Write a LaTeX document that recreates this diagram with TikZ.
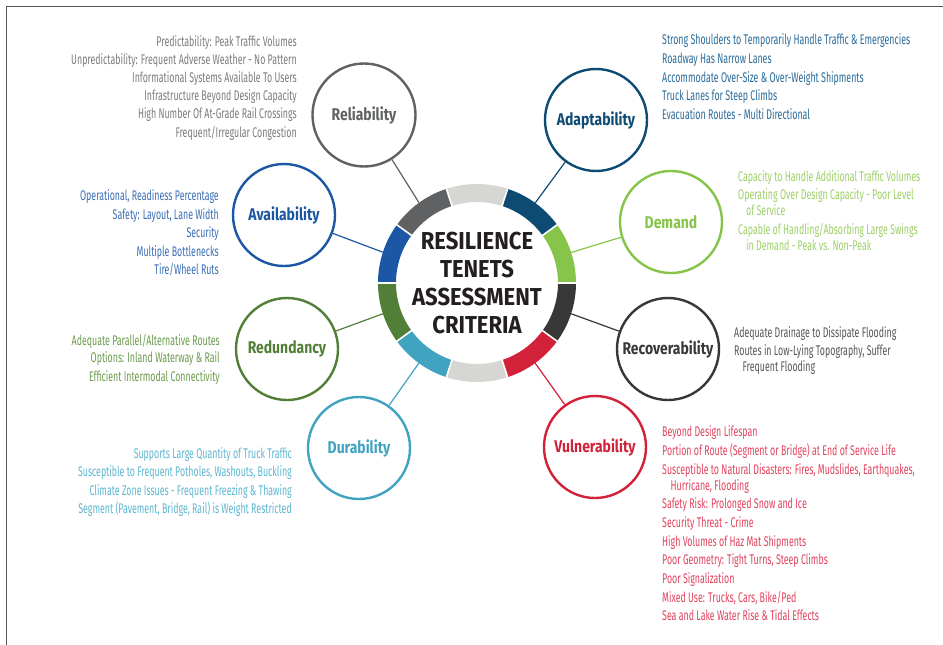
\documentclass[tikz,border=0pt]{standalone}
\usepackage{fontspec}
\setmainfont{Fira Sans}
\newfontfamily\listfont{Fira Sans}[FakeStretch=0.63]
\newfontfamily\tenetfont{Fira Sans}[FakeStretch=0.82]
\newfontfamily\titlefont{Fira Sans}[FakeStretch=0.9]
\usetikzlibrary{calc}

% tenet colours: C = circle / ring segment, T = criteria text
\definecolor{relC}{HTML}{5F6163}
\definecolor{relT}{HTML}{7A7B7D}
\definecolor{adaC}{HTML}{0E4B72}
\definecolor{adaT}{HTML}{2A6A98}
\definecolor{demC}{HTML}{86C44A}
\definecolor{demT}{HTML}{9CCF65}
\definecolor{recC}{HTML}{383838}
\definecolor{recT}{HTML}{555555}
\definecolor{vulC}{HTML}{D2223A}
\definecolor{vulT}{HTML}{E0425C}
\definecolor{durC}{HTML}{40A3C0}
\definecolor{durT}{HTML}{5DB6D0}
\definecolor{redC}{HTML}{527F38}
\definecolor{redT}{HTML}{6C9A4D}
\definecolor{avaC}{HTML}{1C57A5}
\definecolor{avaT}{HTML}{3A6DB4}
\definecolor{ringgray}{HTML}{D6D7D3}
\definecolor{framegray}{HTML}{555555}
\definecolor{titleink}{HTML}{231F20}

\tikzset{
  listL/.style={anchor=base west, inner sep=0pt, font=\listfont\fontsize{14}{16}\selectfont},
  listR/.style={anchor=base east, inner sep=0pt, font=\listfont\fontsize{14}{16}\selectfont},
  tenet/.style={circle, draw, fill=white, line width=2.4pt, minimum size=102pt, inner sep=0pt,
                font=\tenetfont\bfseries\fontsize{17}{20}\selectfont},
  link/.style={line width=1.2pt},
  seg/.style={line width=18pt},
}

\begin{document}
\begin{tikzpicture}[x=1pt,y=1pt]
\useasboundingbox (0,0) rectangle (943,-645);

% frame edges
\draw[framegray, line width=1.6pt] (6.5,-645) -- (6.5,-6.5) -- (943,-6.5);

% hub
\coordinate (hub) at (477,-283);

% tenet circles
\node[tenet, draw=relC, text=relC, minimum size=103pt] (rel) at (364,-115) {Reliability};
\node[tenet, draw=adaC, text=adaC] (ada) at (596,-120) {Adaptability};
\node[tenet, draw=demC, text=demC] (dem) at (671,-222) {Demand};
\node[tenet, draw=recC, text=recC] (rec) at (668,-349) {Recoverability};
\node[tenet, draw=vulC, text=vulC] (vul) at (595,-447) {Vulnerability};
\node[tenet, draw=durC, text=durC] (dur) at (359,-448) {Durability};
\node[tenet, draw=redC, text=redC] (red) at (287,-349) {Redundancy};
\node[tenet, draw=avaC, text=avaC] (ava) at (284,-215) {Availability};

% spokes from the ring to each tenet
\path (hub) ++(126:95pt) coordinate (relA);
\path (hub) ++(54:95pt)  coordinate (adaA);
\path (hub) ++(18:95pt)  coordinate (demA);
\path (hub) ++(-18:95pt) coordinate (recA);
\path (hub) ++(-54:95pt) coordinate (vulA);
\path (hub) ++(-126:95pt) coordinate (durA);
\path (hub) ++(198:95pt) coordinate (redA);
\path (hub) ++(162:95pt) coordinate (avaA);
\draw[link, relC] (relA) -- (rel);
\draw[link, adaC] (adaA) -- (ada);
\draw[link, demC] (demA) -- (dem);
\draw[link, recC] (recA) -- (rec);
\draw[link, vulC] (vulA) -- (vul);
\draw[link, durC] (durA) -- (dur);
\draw[link, redC] (redA) -- (red);
\draw[link, avaC] (avaA) -- (ava);

% segmented ring
\fill[white] (hub) circle (99pt);
\foreach \a/\c in {72/ringgray, 108/relC, 144/avaC, 180/redC, 216/durC,
                   252/ringgray, 288/vulC, 324/recC, 0/demC, 36/adaC}
  \draw[seg, \c] (hub) ++(\a:90pt) arc[start angle=\a, end angle=\a+36, radius=90pt];
\foreach \a in {0,36,...,324}
  \draw[white, line width=1.6pt] (hub) ++(\a:78pt) -- ++(\a:24pt);

\node[align=center, text=titleink, inner sep=0pt,
      font=\titlefont\bfseries\fontsize{24.5}{28.2}\selectfont] (title) at (hub)
  {RESILIENCE\\TENETS\\ASSESSMENT\\CRITERIA};

% Reliability criteria
\begin{scope}[every node/.append style={listR, text=relT}]
\node (rel1) at (297,-46.5) {Predictability: Peak Traffic Volumes};
\node (rel2) at (297,-64.6) {Unpredictability: Frequent Adverse Weather - No Pattern};
\node (rel3) at (297,-82.7) {Informational Systems Available To Users};
\node (rel4) at (297,-100.8) {Infrastructure Beyond Design Capacity};
\node (rel5) at (297,-118.9) {High Number Of At-Grade Rail Crossings};
\node (rel6) at (297,-137) {Frequent/Irregular Congestion};
\end{scope}

% Adaptability criteria
\begin{scope}[every node/.append style={listL, text=adaT}]
\node (ada1) at (662,-45) {Strong Shoulders to Temporarily Handle Traffic \& Emergencies};
\node (ada2) at (662,-63.6) {Roadway Has Narrow Lanes};
\node (ada3) at (662,-82.2) {Accommodate Over-Size \& Over-Weight Shipments};
\node (ada4) at (662,-100.8) {Truck Lanes for Steep Climbs};
\node (ada5) at (662,-119.4) {Evacuation Routes - Multi Directional};
\end{scope}

% Demand criteria
\begin{scope}[every node/.append style={listL, text=demT}]
\node (dem1) at (738,-181.7) {Capacity to Handle Additional Traffic Volumes};
\node (dem2) at (738,-199.5) {Operating Over Design Capacity - Poor Level};
\node (dem3) at (746,-215.5) {of Service};
\node (dem4) at (738,-234) {Capable of Handling/Absorbing Large Swings};
\node (dem5) at (746,-250) {in Demand - Peak vs. Non-Peak};
\end{scope}

% Recoverability criteria
\begin{scope}[every node/.append style={listL, text=recT}]
\node (rec1) at (734,-337.7) {Adequate Drainage to Dissipate Flooding};
\node (rec2) at (734,-355.7) {Routes in Low-Lying Topography, Suffer};
\node (rec3) at (742.5,-371.7) {Frequent Flooding};
\end{scope}

% Vulnerability criteria
\begin{scope}[every node/.append style={listL, text=vulT}]
\node (vul1) at (662,-436.7) {Beyond Design Lifespan};
\node (vul2) at (662,-455.3) {Portion of Route (Segment or Bridge) at End of Service Life};
\node (vul3) at (662,-474) {Susceptible to Natural Disasters: Fires, Mudslides, Earthquakes,};
\node (vul4) at (670.5,-490) {Hurricane, Flooding};
\node (vul5) at (662,-508.7) {Safety Risk: Prolonged Snow and Ice};
\node (vul6) at (662,-527.3) {Security Threat - Crime};
\node (vul7) at (662,-546) {High Volumes of Haz Mat Shipments};
\node (vul8) at (662,-564.7) {Poor Geometry: Tight Turns, Steep Climbs};
\node (vul9) at (662,-583.3) {Poor Signalization};
\node (vul10) at (662,-602) {Mixed Use: Trucks, Cars, Bike/Ped};
\node (vul11) at (662,-620.7) {Sea and Lake Water Rise \& Tidal Effects};
\end{scope}

% Durability criteria
\begin{scope}[every node/.append style={listR, text=durT}]
\node (dur1) at (292,-458.3) {Supports Large Quantity of Truck Traffic};
\node (dur2) at (292,-476.7) {Susceptible to Frequent Potholes, Washouts, Buckling};
\node (dur3) at (292,-495) {Climate Zone Issues - Frequent Freezing \& Thawing};
\node (dur4) at (292,-513.3) {Segment (Pavement, Bridge, Rail) is Weight Restricted};
\end{scope}

% Redundancy criteria
\begin{scope}[every node/.append style={listR, text=redT}]
\node (red1) at (220,-345) {Adequate Parallel/Alternative Routes};
\node (red2) at (220,-362.7) {Options: Inland Waterway \& Rail};
\node (red3) at (220,-381) {Efficient Intermodal Connectivity};
\end{scope}

% Availability criteria
\begin{scope}[every node/.append style={listR, text=avaT}]
\node (ava1) at (219,-200.7) {Operational, Readiness Percentage};
\node (ava2) at (219,-219) {Safety: Layout, Lane Width};
\node (ava3) at (219,-237.3) {Security};
\node (ava4) at (219,-256) {Multiple Bottlenecks};
\node (ava5) at (219,-274.3) {Tire/Wheel Ruts};
\end{scope}
\end{tikzpicture}
\end{document}
